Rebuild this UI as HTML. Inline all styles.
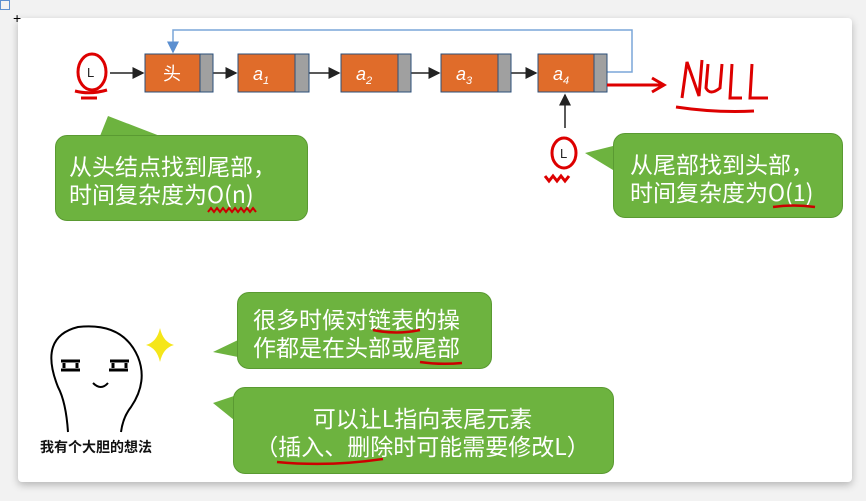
<!DOCTYPE html>
<html><head><meta charset="utf-8"><style>
body{margin:0;width:866px;height:501px;background:#f2f2f2;position:relative;overflow:hidden;font-family:"Liberation Sans","Noto Sans CJK SC",sans-serif}
.card{position:absolute;left:18px;top:18px;width:834px;height:464px;background:#fff;border-radius:4px;box-shadow:0 3px 8px rgba(0,0,0,.25)}
.b{position:absolute;background:#6db33f;border:1px solid #5a9a32;border-radius:12px}
svg{position:absolute;left:0;top:0}
.t{position:absolute;color:#fff;font-size:23px;line-height:28px;white-space:nowrap;font-family:"Noto Sans CJK SC",sans-serif}
</style></head><body>
<div class="card"></div>
<svg width="866" height="501">
<defs><marker id="ar" markerWidth="8" markerHeight="8" refX="7" refY="4" orient="auto"><path d="M0,0L8,4L0,8z" fill="#222"/></marker>
<marker id="ab" markerWidth="8" markerHeight="8" refX="7" refY="4" orient="auto"><path d="M0,0L8,4L0,8z" fill="#5b8fd0"/></marker></defs>
<polyline points="607,72 632,72 632,30 173,30 173,52" fill="none" stroke="#7aa6d8" stroke-width="1.5" marker-end="url(#ab)"/>
<g stroke="#222" stroke-width="1.5" marker-end="url(#ar)">
<line x1="110" y1="73" x2="143" y2="73"/><line x1="213" y1="73" x2="236" y2="73"/><line x1="309" y1="73" x2="339" y2="73"/><line x1="411" y1="73" x2="439" y2="73"/><line x1="511" y1="73" x2="536" y2="73"/><line x1="565" y1="128" x2="565" y2="95"/>
</g>
<g stroke="#2b4f7a" stroke-width="1">
<rect x="145" y="54" width="68" height="38" fill="#e06c2a"/><rect x="200" y="54" width="13" height="38" fill="#a0a0a0"/>
<rect x="238" y="54" width="71" height="38" fill="#e06c2a"/><rect x="295" y="54" width="14" height="38" fill="#a0a0a0"/>
<rect x="341" y="54" width="70" height="38" fill="#e06c2a"/><rect x="398" y="54" width="13" height="38" fill="#a0a0a0"/>
<rect x="441" y="54" width="70" height="38" fill="#e06c2a"/><rect x="498" y="54" width="13" height="38" fill="#a0a0a0"/>
<rect x="538" y="54" width="69" height="38" fill="#e06c2a"/><rect x="594" y="54" width="13" height="38" fill="#a0a0a0"/>
</g>
<g fill="#fff" font-size="18" font-style="italic" font-family="Liberation Sans,sans-serif">
<text x="163" y="80" font-style="normal" font-family="Noto Sans CJK SC,sans-serif" font-size="18">头</text>
<text x="253" y="80">a<tspan font-size="11" dy="4">1</tspan></text>
<text x="356" y="80">a<tspan font-size="11" dy="4">2</tspan></text>
<text x="456" y="80">a<tspan font-size="11" dy="4">3</tspan></text>
<text x="553" y="80">a<tspan font-size="11" dy="4">4</tspan></text>
</g>
<g fill="none" stroke="#d00" stroke-width="3">
<ellipse cx="92" cy="72" rx="14" ry="18"/><path d="M75,91 q15,4 32,-1 M81,98 h16"/>
<ellipse cx="564" cy="153" rx="12" ry="15"/><path d="M545,176 l4,5 4,-5 4,5 4,-5 4,5 4,-5"/>
<path d="M607,85 h55 M652,78 l12,7 -12,7"/>
<path d="M682,98 l5,-36 12,34 3,-36 M708,64 l-2,24 q4,8 14,0 l2,-24 M732,64 l-2,34 h12 M752,64 l-2,34 h18 M676,107 q40,6 78,4"/>
</g>
<g font-size="13" fill="#222"><text x="87" y="77">L</text><text x="560" y="158">L</text></g>
<path d="M100,136 L108,116 L160,136z" fill="#6db33f"/>
<path d="M613,146 L585,153 L613,170z" fill="#6db33f"/>
<path d="M238,340 L213,352 L238,357z" fill="#6db33f"/>
<path d="M234,396 L213,403 L234,420z" fill="#6db33f"/>
<g fill="none" stroke="#000" stroke-width="2">
<path d="M68,432 q-2,-30 -10,-45 q-20,-50 20,-60 q45,-5 60,30 q10,25 -7,50 q-8,10 -10,25"/>
<path d="M61,361 h19 M64,363 v5 M77,363 v5 M61,370 h19 M110,361 h19 M113,363 v5 M126,363 v5 M109,370 h19" stroke-width="3"/>
<path d="M93,383 q8,8 15,0"/>
</g>
<path d="M160,328 q3,14 14,17 q-11,3 -14,17 q-3,-14 -14,-17 q11,-3 14,-17z" fill="#f5e61a"/>
<text x="40" y="452" font-size="14" font-weight="bold" fill="#111" font-family="Noto Sans CJK SC,sans-serif">我有个大胆的想法</text>
</svg>
<div class="b" style="left:55px;top:135px;width:251px;height:84px"></div>
<div class="t" style="left:69px;top:151px">从头结点找到尾部，<br>时间复杂度为O(n)</div>
<div class="b" style="left:613px;top:133px;width:228px;height:83px"></div>
<div class="t" style="left:630px;top:149px">从尾部找到头部，<br>时间复杂度为O(1)</div>
<div class="b" style="left:237px;top:292px;width:253px;height:75px"></div>
<div class="t" style="left:253px;top:304px">很多时候对链表的操<br>作都是在头部或尾部</div>
<div class="b" style="left:233px;top:387px;width:379px;height:85px"></div>
<div class="t" style="left:233px;top:403px;width:379px;text-align:center">可以让L指向表尾元素<br>（插入、删除时可能需要修改L）</div>
<svg width="866" height="501">
<g fill="none" stroke="#c00" stroke-width="2.5">
<path d="M208,212 l3,-4 3,4 3,-4 3,4 3,-4 3,4 3,-4 3,4 3,-4 3,4 3,-4 3,4 3,-4 3,4 3,-4 3,4" stroke-width="2"/>
<path d="M773,207 q20,-3 42,0"/>
<path d="M373,330 q23,5 47,0 M420,362 q20,3 42,1 M277,462 q52,5 106,-3"/>
</g>
</svg>
<div style="position:absolute;left:0;top:0;width:8px;height:8px;border:1px solid #5b8fd0"></div>
<div style="position:absolute;left:13px;top:13px;font-size:14px;line-height:10px">+</div>
</body></html>
